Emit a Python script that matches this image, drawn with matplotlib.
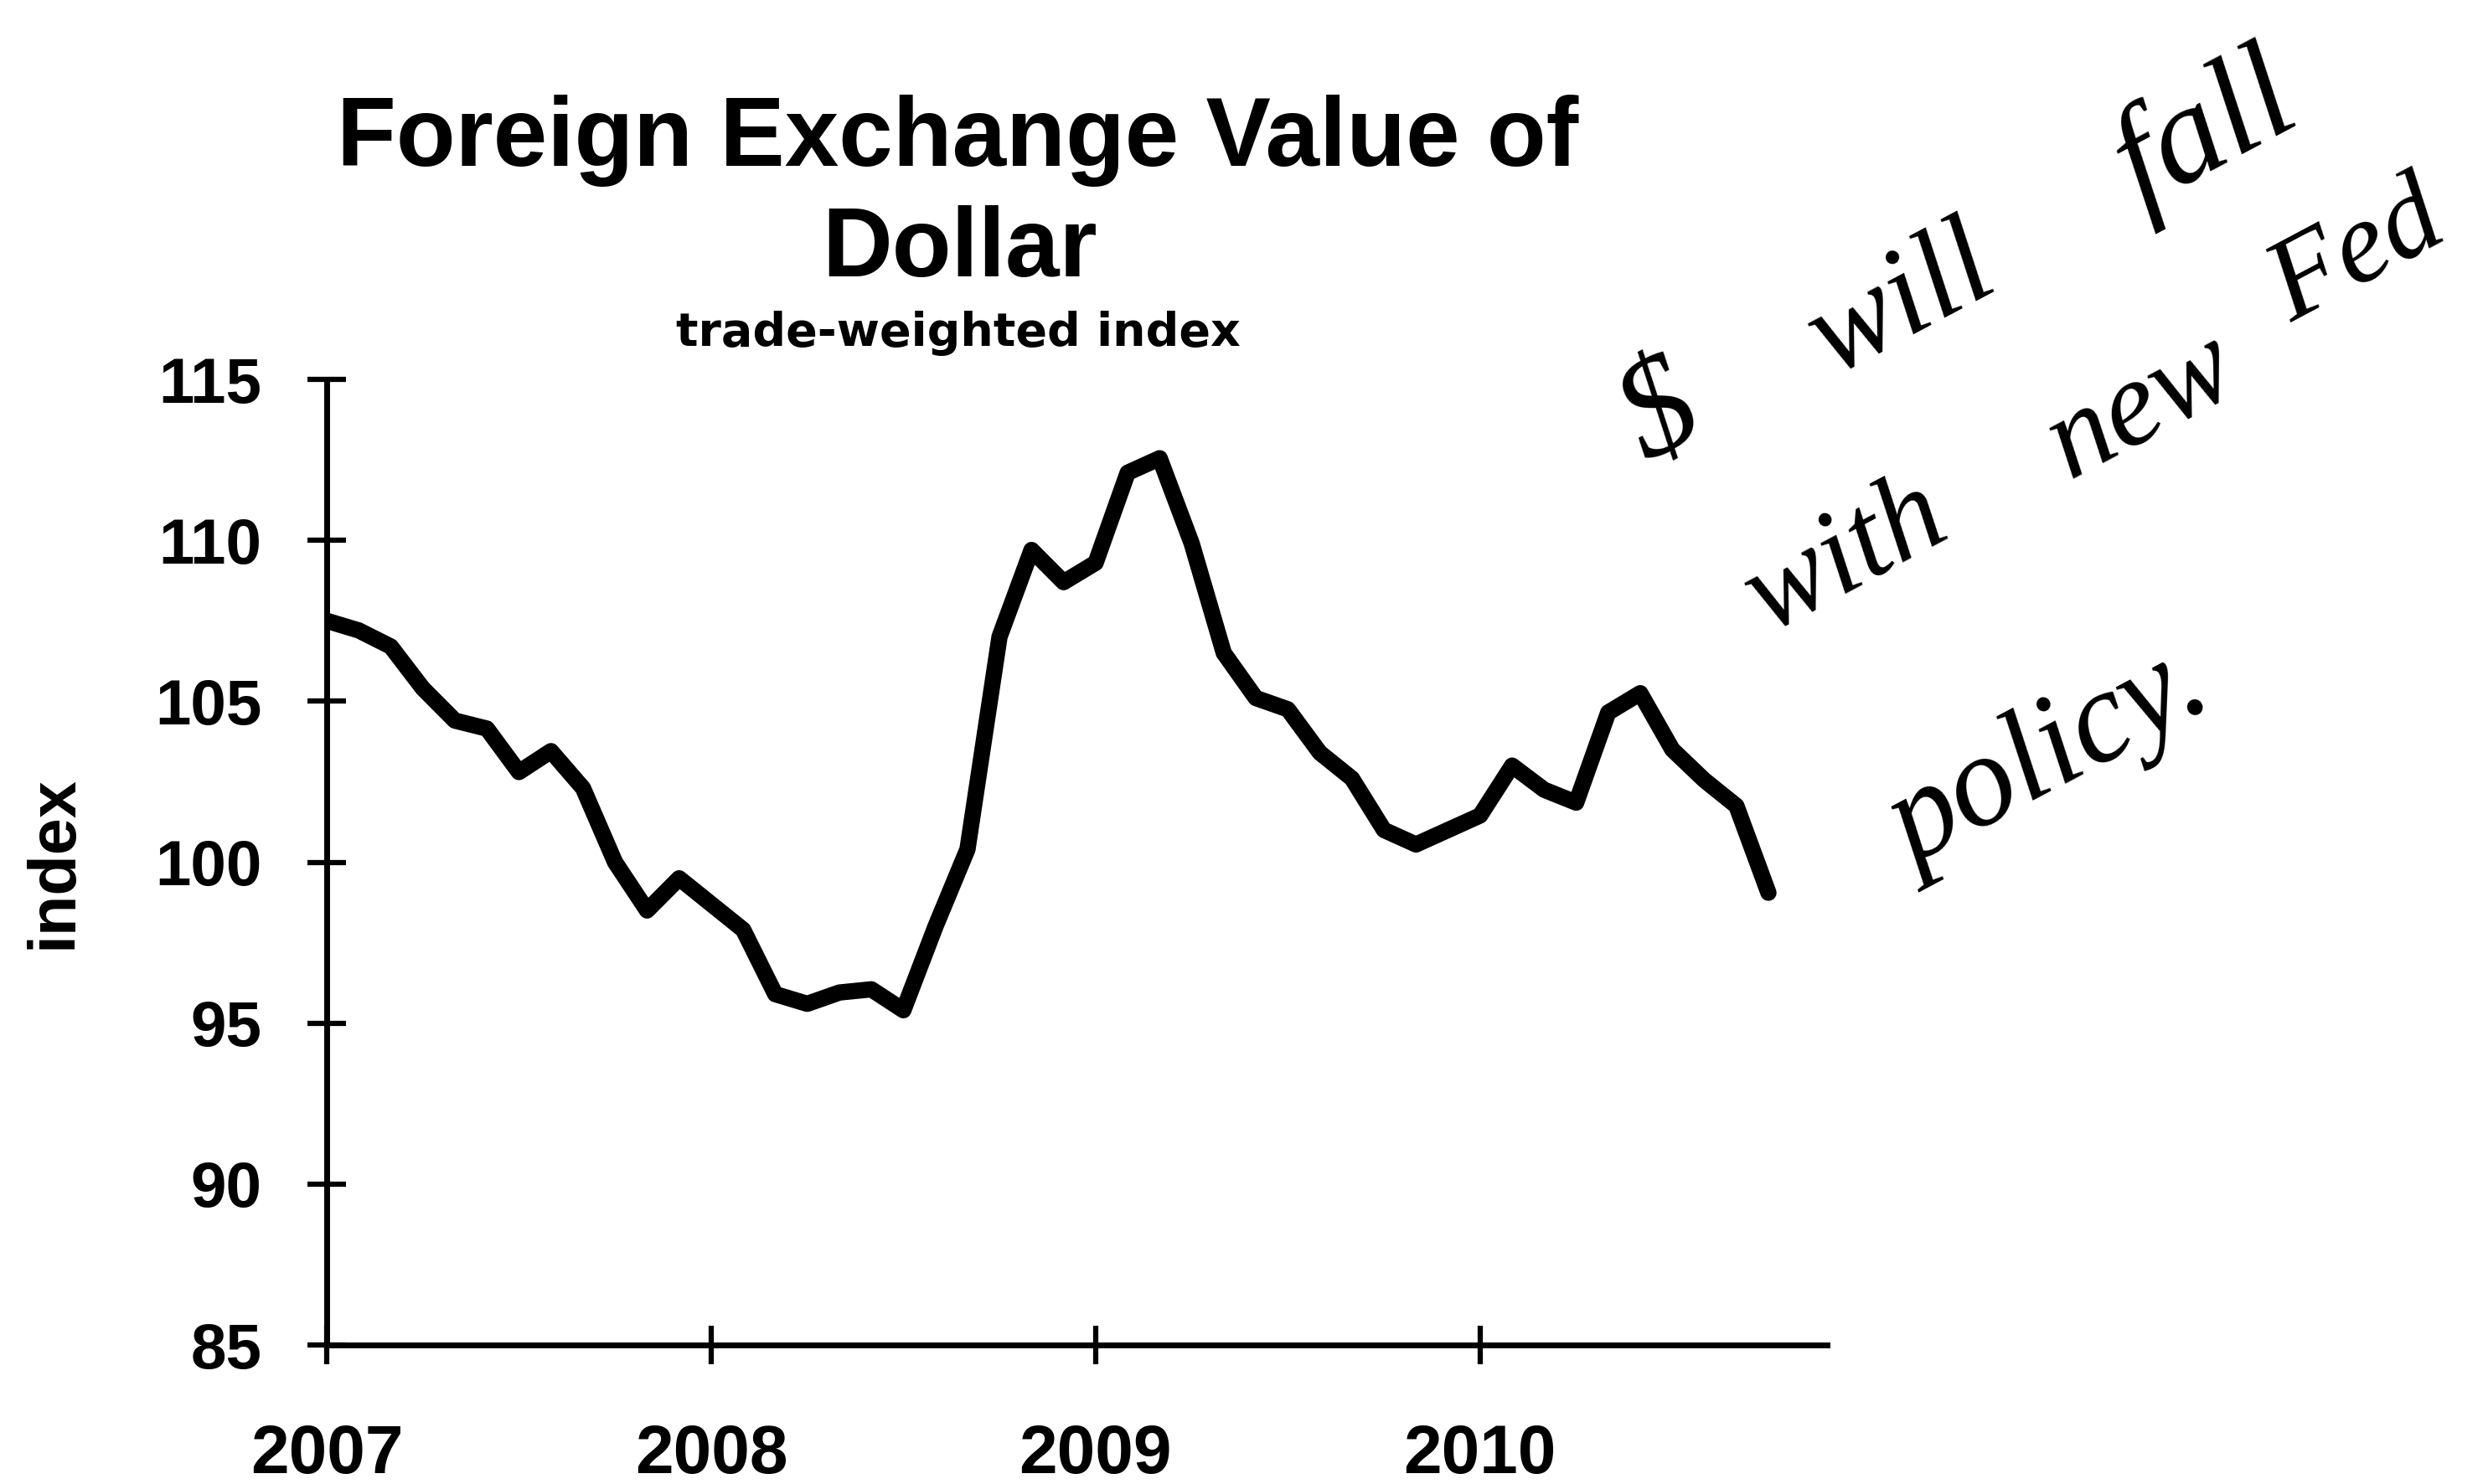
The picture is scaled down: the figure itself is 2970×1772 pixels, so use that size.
import matplotlib
matplotlib.use("Agg")
import matplotlib.pyplot as plt
import numpy as np

# ---- data (monthly, Jan 2007 - Oct 2010) ----
values_2007 = [107.5, 107.2, 106.7, 105.4, 104.4, 104.15, 102.8, 103.45, 102.3, 100.0, 98.5, 99.5]
values_2008 = [98.7, 97.9, 95.9, 95.6, 95.95, 96.05, 95.4, 98.0, 100.4, 107.0, 109.7, 108.7]
values_2009 = [109.3, 112.1, 112.55, 109.9, 106.5, 105.1, 104.75, 103.4, 102.6, 101.0, 100.55, 101.0]
values_2010 = [101.45, 103.0, 102.25, 101.85, 104.65, 105.25, 103.5, 102.55, 101.75, 99.05]
index_values = values_2007 + values_2008 + values_2009 + values_2010
month_index = list(range(len(index_values)))

year_tick_months = [0, 12, 24, 36]
year_labels = ["2007", "2008", "2009", "2010"]
y_ticks = [85, 90, 95, 100, 105, 110, 115]

title_lines = ["Foreign Exchange Value of", "Dollar"]
subtitle = "trade-weighted index"
y_label = "index"
# handwritten note, word by word
note_words = ["$", "will", "fall", "with", "new", "Fed", "policy."]

W, H = 2970, 1772
fig = plt.figure(figsize=(W / 100, H / 100), dpi=100)
fig.patch.set_facecolor("white")

def fx(px):
    return px / W

def fy(py):
    return 1 - py / H

ax_left, ax_right, ax_top, ax_bottom = 390, 2181, 453, 1606
ax = fig.add_axes([fx(ax_left), fy(ax_bottom), (ax_right - ax_left) / W, (ax_bottom - ax_top) / H])

ax.plot(month_index, index_values, color="black", lw=14,
        solid_joinstyle="round", solid_capstyle="round")

ax.set_xlim(0, 46.83)
ax.set_ylim(85, 115)
ax.set_yticks(y_ticks)
ax.set_yticklabels([str(v) for v in y_ticks])
ax.set_xticks(year_tick_months)
ax.set_xticklabels(year_labels)

for s in ["top", "right"]:
    ax.spines[s].set_visible(False)
for s in ["left", "bottom"]:
    ax.spines[s].set_linewidth(5)
    ax.spines[s].set_color("black")

ax.tick_params(axis="y", direction="inout", length=33, width=4.5, pad=39.5,
               labelsize=55, colors="black")
ax.tick_params(axis="x", direction="inout", length=33, width=4.5, pad=51,
               labelsize=59, colors="black")
for lab in ax.get_yticklabels() + ax.get_xticklabels():
    lab.set_fontfamily("Liberation Sans")
    lab.set_fontweight("bold")

ax.set_ylabel(y_label, fontsize=57, fontweight="bold", family="Liberation Sans")
ax.yaxis.label.set_verticalalignment("center")
ax.yaxis.set_label_coords((65 - ax_left) / (ax_right - ax_left), 0.5)

# titles
fig.text(fx(1143), fy(198), title_lines[0], ha="center", va="baseline",
         fontsize=83.5, fontweight="bold", family="Liberation Sans")
fig.text(fx(1146), fy(330), title_lines[1], ha="center", va="baseline",
         fontsize=83.5, fontweight="bold", family="Liberation Sans")
fig.text(fx(1144), fy(413), subtitle, ha="center", va="baseline",
         fontsize=40, fontweight="bold", family="DejaVu Sans")

# handwritten note
word_centers = [(1982, 497), (2271, 363), (2633, 160), (2204, 666),
                (2558, 486), (2815, 305), (2447, 907)]
word_sizes = [120, 110, 120, 105, 105, 100, 112]
for word, (cx, cy), fs in zip(note_words, word_centers, word_sizes):
    fig.text(fx(cx), fy(cy), word, ha="center", va="center", rotation=28,
             fontsize=fs, family="Liberation Serif", style="italic",
             color="black")

fig.savefig("out.png", dpi=100, facecolor="white")
